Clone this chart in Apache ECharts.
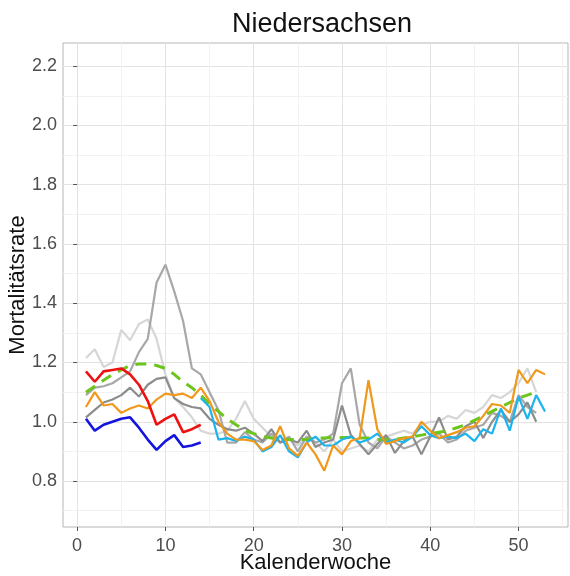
<!DOCTYPE html>
<html>
<head>
<meta charset="utf-8">
<script src="https://cdn.jsdelivr.net/npm/echarts@6/dist/echarts.min.js"></script>
<style>
  html, body { margin: 0; padding: 0; background: #fff; }
  #chart { width: 570px; height: 576px; }
</style>
</head>
<body>
<div id="chart"></div>
<script>
// tick labels
const xTicks = [0, 10, 20, 30, 40, 50];
const xMinor = [5, 15, 25, 35, 45, 55];
const yTicks = [0.8, 1.0, 1.2, 1.4, 1.6, 1.8, 2.0, 2.2];
const yMinor = [0.7, 0.9, 1.1, 1.3, 1.5, 1.7, 1.9, 2.1];

// earlier years (grey), from week 1
const greyLight = [1.215, 1.245, 1.185, 1.2, 1.31, 1.275, 1.33, 1.345, 1.28, 1.16,
  1.08, 1.05, 1.015, 0.97, 0.96, 0.96, 0.97, 1.01, 1.07, 1.01,
  0.98, 0.95, 0.93, 0.94, 0.92, 0.95, 0.93, 0.9, 0.94, 0.9,
  0.91, 0.92, 0.9, 0.94, 0.95, 0.96, 0.97, 0.96, 0.99, 1.0,
  1.0, 1.02, 1.01, 1.04, 1.03, 1.05, 1.09, 1.08, 1.1, 1.13,
  1.18, 1.1];
const greyMid = [1.09, 1.115, 1.12, 1.13, 1.15, 1.17, 1.235, 1.28, 1.47, 1.53,
  1.44, 1.34, 1.18, 1.16, 1.1, 1.04, 0.93, 0.93, 0.965, 0.94,
  0.93, 0.96, 0.93, 0.95, 0.9, 0.95, 0.93, 0.94, 0.96, 1.13,
  1.18, 0.99, 0.93, 0.91, 0.95, 0.93, 0.91, 0.92, 0.94, 0.95,
  0.96, 0.93, 0.94, 0.97, 0.98, 0.99, 1.03, 1.02, 1.0, 1.09,
  1.05, 1.03];
const greyDark = [1.015, 1.04, 1.065, 1.075, 1.09, 1.115, 1.085, 1.125, 1.145, 1.15,
  1.08, 1.06, 1.05, 1.045, 1.01, 0.99, 0.975, 0.97, 0.98, 0.96,
  0.935, 0.975, 0.93, 0.94, 0.93, 0.97, 0.915, 0.93, 0.94, 1.055,
  0.955, 0.925, 0.89, 0.925, 0.955, 0.895, 0.935, 0.95, 0.89, 0.95,
  1.015, 0.94, 0.95, 0.985, 1.0, 0.945, 1.0, 1.04, 1.0, 1.025,
  1.065, 1.0];

// mean (green dashed), from week 1
const meanLine = [1.1, 1.12, 1.14, 1.16, 1.175, 1.19, 1.195, 1.195, 1.19, 1.18,
  1.16, 1.135, 1.115, 1.09, 1.06, 1.035, 1.01, 0.99, 0.97, 0.96,
  0.95, 0.945, 0.94, 0.94, 0.94, 0.94, 0.945, 0.945, 0.947, 0.947,
  0.947, 0.945, 0.945, 0.94, 0.94, 0.94, 0.945, 0.95, 0.955, 0.96,
  0.965, 0.97, 0.98, 0.99, 1.005, 1.02, 1.035, 1.05, 1.065, 1.08,
  1.09, 1.1];

// orange, from week 1
const orangeLine = [1.05, 1.1, 1.055, 1.06, 1.03, 1.045, 1.055, 1.045, 1.075, 1.095,
  1.09, 1.095, 1.08, 1.115, 1.07, 1.0, 0.96, 0.94, 0.94, 0.935,
  0.905, 0.92, 0.985, 0.91, 0.885, 0.93, 0.89, 0.835, 0.92, 0.89,
  0.935, 0.945, 1.14, 0.975, 0.925, 0.935, 0.945, 0.95, 1.0, 0.97,
  0.945, 0.955, 0.965, 0.98, 0.985, 1.02, 1.06, 1.055, 1.03, 1.175,
  1.13, 1.175, 1.16];

// light blue, from week 14
const lightBlueStart = 14;
const lightBlueLine = [1.08, 1.05, 0.94, 0.945, 0.935, 0.95, 0.94, 0.9, 0.915, 0.955,
  0.9, 0.88, 0.93, 0.95, 0.92, 0.92, 0.94, 0.95, 0.93, 0.94,
  0.96, 0.93, 0.94, 0.93, 0.95, 0.985, 0.955, 0.945, 0.95, 0.945,
  0.96, 0.935, 0.975, 0.96, 1.045, 0.97, 1.085, 1.01, 1.09, 1.035];

// red and blue, weeks 1-14
const redLine = [1.17, 1.135, 1.17, 1.175, 1.18, 1.16, 1.125, 1.07, 0.99, 1.01,
  1.025, 0.965, 0.975, 0.99];
const blueLine = [1.01, 0.97, 0.99, 1.0, 1.01, 1.015, 0.98, 0.94, 0.905, 0.935,
  0.955, 0.915, 0.92, 0.93];

function toPoints(values, start) {
  return values.map((v, i) => [start + i, v]);
}

function lineSeries(name, values, start, color, width, dash) {
  return {
    name: name,
    type: "line",
    data: toPoints(values, start),
    symbol: "none",
    silent: true,
    lineStyle: { color: color, width: width, type: dash || "solid" },
  };
}

const font = "Liberation Sans, Arial, sans-serif";
const chart = echarts.init(document.getElementById("chart"));

chart.setOption({
  animation: false,
  backgroundColor: "#fff",
  title: {
    text: "Niedersachsen",
    left: 317,
    textAlign: "center",
    top: 6,
    textStyle: { fontFamily: font, fontSize: 27, fontWeight: "normal", color: "#111" },
  },
  grid: {
    left: 63,
    right: 2,
    top: 43,
    bottom: 49,
    outerBoundsMode: "none",
    containLabel: false,
    show: true,
    borderColor: "#b5b5b5",
    borderWidth: 1,
  },
  xAxis: [
    {
      type: "value",
      min: -1.6,
      max: 55.6,
      name: "Kalenderwoche",
      nameLocation: "middle",
      nameGap: 25,
      nameMoveOverlap: false,
      nameTextStyle: { fontFamily: font, fontSize: 22, color: "#111" },
      axisLine: { show: false },
      axisTick: { show: true, customValues: xTicks, length: 4, lineStyle: { color: "#555" } },
      axisLabel: { customValues: xTicks, fontFamily: font, fontSize: 18, color: "#4d4d4d", margin: 10 },
      splitLine: { show: true, lineStyle: { color: "#e3e3e3", width: 1 } },
    },
    {
      type: "value",
      min: -1.6,
      max: 55.6,
      position: "top",
      axisLine: { show: false },
      axisTick: { show: false, customValues: xMinor },
      axisLabel: { show: false, customValues: xMinor },
      splitLine: { show: true, lineStyle: { color: "#f2f2f2", width: 1 } },
    },
  ],
  yAxis: [
    {
      type: "value",
      min: 0.645,
      max: 2.278,
      name: "Mortalitätsrate",
      nameLocation: "middle",
      nameGap: 34,
      nameMoveOverlap: false,
      nameTextStyle: { fontFamily: font, fontSize: 22, color: "#111" },
      axisLine: { show: false },
      axisTick: { show: true, customValues: yTicks, length: 4, lineStyle: { color: "#555" } },
      axisLabel: {
        customValues: yTicks,
        fontFamily: font,
        fontSize: 18,
        color: "#4d4d4d",
        margin: 6,
        formatter: (v) => v.toFixed(1),
      },
      splitLine: { show: true, lineStyle: { color: "#e3e3e3", width: 1 } },
    },
    {
      type: "value",
      min: 0.645,
      max: 2.278,
      position: "right",
      axisLine: { show: false },
      axisTick: { show: false, customValues: yMinor },
      axisLabel: { show: false, customValues: yMinor },
      splitLine: { show: true, lineStyle: { color: "#f2f2f2", width: 1 } },
    },
  ],
  series: [
    lineSeries("grey1", greyLight, 1, "#d6d6d6", 2.2),
    lineSeries("grey2", greyMid, 1, "#a8a8a8", 2.2),
    lineSeries("grey3", greyDark, 1, "#8c8c8c", 2.2),
    lineSeries("mean", meanLine, 1, "#6cc51c", 3, [11, 8]),
    lineSeries("lightblue", lightBlueLine, lightBlueStart, "#1cb4ee", 2.2),
    lineSeries("orange", orangeLine, 1, "#f0981c", 2.2),
    lineSeries("red", redLine, 1, "#ee1111", 2.6),
    lineSeries("blue", blueLine, 1, "#1414dc", 2.6),
  ],
});
</script>
</body>
</html>
